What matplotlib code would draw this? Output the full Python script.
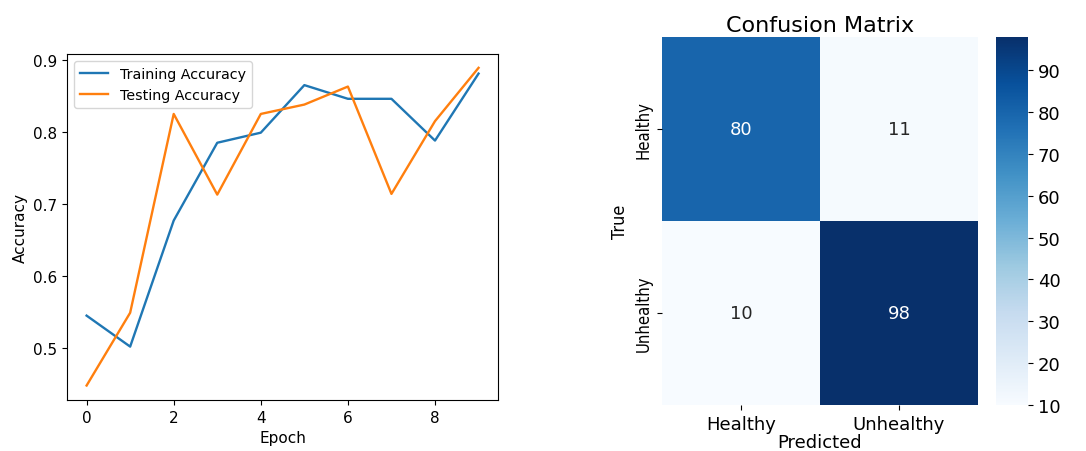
import matplotlib
matplotlib.use("Agg")
import matplotlib.pyplot as plt
import numpy as np
import seaborn as sns

# Accuracy per epoch
epochs = list(range(10))
train_acc = [0.545, 0.502, 0.677, 0.785, 0.799, 0.865, 0.846, 0.846, 0.788, 0.881]
test_acc = [0.448, 0.549, 0.825, 0.713, 0.825, 0.838, 0.863, 0.714, 0.815, 0.889]

# Confusion matrix
class_names = ["Healthy", "Unhealthy"]
conf_mat = np.array([[80, 11],
                     [10, 98]])
cbar_ticks = [10, 20, 30, 40, 50, 60, 70, 80, 90]


def main():
    fig = plt.figure(figsize=(10.86, 4.52), dpi=100)

    # Left: accuracy curves
    ax1 = fig.add_axes([0.0617, 0.113, 0.397, 0.765])
    ax1.plot(epochs, train_acc, color="#1f77b4", linewidth=1.7, label="Training Accuracy")
    ax1.plot(epochs, test_acc, color="#ff7f0e", linewidth=1.7, label="Testing Accuracy")
    ax1.set_ylim(0.428, 0.908)
    ax1.set_yticks([0.5, 0.6, 0.7, 0.8, 0.9])
    ax1.set_xticks([0, 2, 4, 6, 8])
    ax1.tick_params(labelsize=11)
    ax1.set_xlabel("Epoch", fontsize=11)
    ax1.set_ylabel("Accuracy", fontsize=11)
    ax1.legend(loc="upper left", fontsize=10.3)

    # Right: confusion matrix heatmap
    ax2 = fig.add_axes([0.6096, 0.102, 0.2910, 0.814])
    cax = fig.add_axes([0.9175, 0.102, 0.029, 0.814])
    sns.heatmap(conf_mat, annot=True, fmt="d", cmap="Blues", vmin=10, vmax=98,
                xticklabels=class_names, yticklabels=class_names,
                ax=ax2, cbar_ax=cax, annot_kws={"fontsize": 13})
    ax2.set_title("Confusion Matrix", fontsize=16, pad=4)
    ax2.set_xlabel("Predicted", fontsize=13, labelpad=0)
    ax2.set_ylabel("True", fontsize=13, fontstretch="condensed")
    ax2.tick_params(axis="x", labelsize=13)
    ax2.tick_params(axis="y", labelsize=12)
    for lbl in ax2.get_yticklabels():
        lbl.set_fontstretch("condensed")
    cax.set_yticks(cbar_ticks)
    cax.tick_params(labelsize=13)

    fig.savefig("out.png", dpi=100)


if __name__ == "__main__":
    main()
